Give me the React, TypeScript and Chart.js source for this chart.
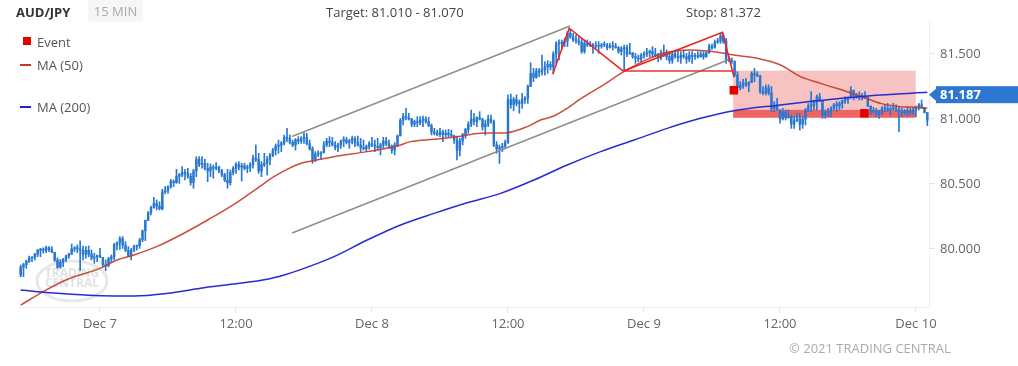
import React, { useEffect, useRef } from 'react';
import { Chart, registerables } from 'chart.js';

Chart.register(...registerables);

// ---- 15-minute bars (index 0 = Dec 6 17:00) ----
const highs = [
  79.877, 79.890, 79.915, 79.946, 79.941, 79.967, 79.997, 80.005, 80.010, 80.023,
  80.018, 80.018, 79.972, 79.933, 79.920, 79.928, 79.954, 79.967, 80.038, 80.018,
  80.031, 80.062, 80.023, 80.018, 80.023, 79.992, 79.967, 79.954, 80.005, 79.928,
  79.915, 79.936, 79.954, 80.044, 80.056, 80.095, 80.095, 80.056, 80.018, 80.005,
  80.031, 80.031, 80.082, 80.146, 80.223, 80.287, 80.331, 80.397, 80.377, 80.364,
  80.459, 80.480, 80.485, 80.536, 80.531, 80.613, 80.582, 80.633, 80.613, 80.621,
  80.582, 80.613, 80.710, 80.710, 80.710, 80.690, 80.659, 80.654, 80.646, 80.664,
  80.638, 80.613, 80.582, 80.613, 80.608, 80.633, 80.664, 80.672, 80.659, 80.659,
  80.646, 80.664, 80.723, 80.800, 80.736, 80.672, 80.736, 80.710, 80.736, 80.774,
  80.808, 80.838, 80.826, 80.877, 80.928, 80.877, 80.838, 80.851, 80.864, 80.864,
  80.895, 80.890, 80.838, 80.787, 80.749, 80.756, 80.749, 80.826, 80.851, 80.864,
  80.859, 80.826, 80.813, 80.838, 80.864, 80.859, 80.844, 80.869, 80.864, 80.869,
  80.851, 80.838, 80.800, 80.826, 80.859, 80.838, 80.851, 80.813, 80.859, 80.859,
  80.838, 80.800, 80.818, 80.877, 81.005, 81.044, 81.082, 81.044, 81.005, 80.992,
  81.018, 81.018, 81.023, 81.018, 81.013, 80.962, 80.928, 80.915, 80.928, 80.915,
  80.915, 80.921, 80.915, 80.877, 80.869, 80.851, 80.890, 80.928, 80.979, 81.069,
  81.044, 81.018, 81.056, 81.005, 80.992, 81.031, 81.031, 80.992, 80.826, 80.800,
  80.813, 80.838, 81.185, 81.192, 81.167, 81.185, 81.146, 81.197, 81.172, 81.262,
  81.433, 81.390, 81.390, 81.390, 81.492, 81.441, 81.449, 81.441, 81.518, 81.595,
  81.608, 81.608, 81.621, 81.672, 81.690, 81.659, 81.646, 81.633, 81.621, 81.608,
  81.608, 81.595, 81.582, 81.595, 81.595, 81.582, 81.595, 81.582, 81.582, 81.595,
  81.582, 81.557, 81.557, 81.569, 81.569, 81.582, 81.505, 81.505, 81.492, 81.505,
  81.518, 81.544, 81.531, 81.557, 81.544, 81.505, 81.531, 81.569, 81.531, 81.505,
  81.518, 81.531, 81.531, 81.518, 81.531, 81.505, 81.518, 81.518, 81.505, 81.518,
  81.518, 81.518, 81.518, 81.577, 81.577, 81.608, 81.621, 81.659, 81.659, 81.621,
  81.479, 81.467, 81.449, 81.364, 81.287, 81.305, 81.313, 81.287, 81.364, 81.390,
  81.364, 81.338, 81.249, 81.262, 81.262, 81.249, 81.133, 81.159, 81.069, 81.082,
  81.069, 81.069, 81.031, 81.018, 81.044, 81.044, 81.018, 81.082, 81.120, 81.210,
  81.146, 81.185, 81.197, 81.108, 81.069, 81.082, 81.095, 81.120, 81.133, 81.133,
  81.146, 81.172, 81.172, 81.249, 81.223, 81.197, 81.210, 81.197, 81.210, 81.159,
  81.095, 81.090, 81.082, 81.069, 81.095, 81.108, 81.120, 81.095, 81.120, 81.108,
  81.090, 81.082, 81.074, 81.090, 81.082, 81.090, 81.100, 81.120, 81.146, 81.084,
  81.031,
];

const lows = [
  79.787, 79.787, 79.851, 79.895, 79.903, 79.915, 79.941, 79.941, 79.967, 79.972,
  79.980, 79.972, 79.903, 79.851, 79.851, 79.864, 79.903, 79.928, 79.967, 79.980,
  79.972, 79.833, 79.915, 79.928, 79.941, 79.915, 79.890, 79.903, 79.936, 79.864,
  79.833, 79.864, 79.903, 79.915, 79.992, 79.997, 80.005, 79.980, 79.941, 79.915,
  79.980, 79.992, 80.005, 80.056, 80.064, 80.223, 80.262, 80.313, 80.300, 80.300,
  80.300, 80.423, 80.428, 80.467, 80.480, 80.505, 80.505, 80.556, 80.531, 80.544,
  80.492, 80.467, 80.556, 80.633, 80.621, 80.608, 80.518, 80.556, 80.544, 80.608,
  80.587, 80.556, 80.518, 80.467, 80.492, 80.569, 80.582, 80.608, 80.523, 80.608,
  80.587, 80.595, 80.621, 80.672, 80.582, 80.556, 80.633, 80.569, 80.646, 80.710,
  80.723, 80.736, 80.749, 80.800, 80.826, 80.808, 80.787, 80.761, 80.808, 80.813,
  80.813, 80.800, 80.761, 80.659, 80.672, 80.710, 80.690, 80.749, 80.787, 80.787,
  80.792, 80.762, 80.749, 80.774, 80.787, 80.808, 80.774, 80.808, 80.787, 80.792,
  80.749, 80.762, 80.749, 80.767, 80.787, 80.749, 80.762, 80.723, 80.774, 80.792,
  80.774, 80.736, 80.723, 80.787, 80.877, 80.954, 80.992, 80.992, 80.941, 80.941,
  80.941, 80.954, 80.941, 80.967, 80.941, 80.877, 80.877, 80.869, 80.864, 80.826,
  80.864, 80.864, 80.864, 80.813, 80.685, 80.715, 80.800, 80.851, 80.890, 80.941,
  80.954, 80.941, 80.992, 80.915, 80.877, 80.941, 80.967, 80.787, 80.736, 80.659,
  80.749, 80.774, 80.813, 81.082, 81.064, 81.100, 81.044, 81.082, 81.120, 81.120,
  81.249, 81.287, 81.313, 81.326, 81.338, 81.338, 81.351, 81.377, 81.351, 81.428,
  81.454, 81.544, 81.557, 81.557, 81.621, 81.595, 81.582, 81.569, 81.505, 81.505,
  81.557, 81.557, 81.505, 81.544, 81.505, 81.544, 81.557, 81.531, 81.544, 81.531,
  81.544, 81.505, 81.492, 81.377, 81.479, 81.505, 81.467, 81.428, 81.441, 81.441,
  81.467, 81.479, 81.479, 81.479, 81.479, 81.441, 81.454, 81.479, 81.454, 81.428,
  81.428, 81.467, 81.441, 81.428, 81.467, 81.428, 81.441, 81.428, 81.459, 81.467,
  81.474, 81.459, 81.474, 81.505, 81.536, 81.544, 81.582, 81.582, 81.582, 81.428,
  81.441, 81.428, 81.326, 81.210, 81.223, 81.236, 81.249, 81.210, 81.287, 81.287,
  81.326, 81.197, 81.185, 81.185, 81.185, 81.056, 81.056, 81.069, 80.967, 80.992,
  80.992, 81.005, 80.928, 80.928, 80.979, 80.915, 80.928, 80.954, 81.056, 81.056,
  81.069, 81.069, 81.133, 81.005, 81.005, 81.018, 81.018, 81.069, 81.056, 81.069,
  81.082, 81.120, 81.120, 81.159, 81.146, 81.159, 81.146, 81.146, 81.159, 81.095,
  81.031, 81.044, 81.018, 81.005, 81.031, 81.056, 81.056, 81.031, 81.069, 81.056,
  80.903, 81.018, 81.031, 81.023, 81.031, 81.031, 81.018, 81.069, 81.082, 81.046,
  80.949,
];

const closes = [
  79.860, 79.880, 79.905, 79.930, 79.935, 79.960, 79.990, 80.000, 79.990, 80.010,
  79.995, 79.975, 79.915, 79.860, 79.900, 79.920, 79.945, 79.960, 80.000, 80.010,
  80.000, 79.990, 79.960, 79.990, 79.960, 79.930, 79.940, 79.950, 79.936, 79.880,
  79.870, 79.925, 79.940, 80.030, 80.050, 80.080, 80.030, 79.990, 79.950, 79.990,
  80.020, 80.025, 80.070, 80.140, 80.220, 80.280, 80.320, 80.350, 80.330, 80.310,
  80.440, 80.450, 80.480, 80.520, 80.510, 80.560, 80.570, 80.590, 80.580, 80.560,
  80.510, 80.600, 80.690, 80.650, 80.660, 80.620, 80.600, 80.630, 80.620, 80.630,
  80.600, 80.570, 80.530, 80.510, 80.590, 80.620, 80.650, 80.630, 80.640, 80.620,
  80.630, 80.650, 80.700, 80.690, 80.600, 80.650, 80.660, 80.690, 80.720, 80.760,
  80.790, 80.800, 80.815, 80.860, 80.850, 80.820, 80.800, 80.840, 80.830, 80.850,
  80.860, 80.810, 80.770, 80.690, 80.730, 80.730, 80.740, 80.800, 80.830, 80.820,
  80.800, 80.780, 80.800, 80.830, 80.840, 80.820, 80.830, 80.850, 80.820, 80.800,
  80.780, 80.770, 80.790, 80.810, 80.800, 80.790, 80.780, 80.800, 80.830, 80.810,
  80.790, 80.760, 80.800, 80.870, 80.990, 81.020, 81.010, 81.000, 80.960, 80.980,
  80.970, 80.990, 81.000, 80.980, 80.950, 80.900, 80.890, 80.880, 80.900, 80.880,
  80.890, 80.880, 80.870, 80.840, 80.760, 80.830, 80.880, 80.920, 80.960, 81.000,
  80.980, 81.010, 81.000, 80.940, 80.960, 81.000, 80.980, 80.800, 80.770, 80.780,
  80.790, 80.820, 81.150, 81.110, 81.150, 81.120, 81.120, 81.150, 81.160, 81.250,
  81.350, 81.320, 81.370, 81.360, 81.380, 81.400, 81.420, 81.400, 81.500, 81.580,
  81.580, 81.590, 81.600, 81.660, 81.630, 81.610, 81.600, 81.590, 81.520, 81.580,
  81.570, 81.570, 81.560, 81.560, 81.560, 81.570, 81.570, 81.550, 81.560, 81.560,
  81.550, 81.520, 81.540, 81.550, 81.500, 81.510, 81.480, 81.470, 81.460, 81.490,
  81.500, 81.510, 81.520, 81.500, 81.490, 81.470, 81.510, 81.500, 81.480, 81.450,
  81.500, 81.480, 81.470, 81.490, 81.480, 81.460, 81.490, 81.480, 81.490, 81.480,
  81.500, 81.480, 81.510, 81.560, 81.550, 81.590, 81.600, 81.640, 81.600, 81.450,
  81.450, 81.440, 81.340, 81.240, 81.260, 81.280, 81.260, 81.280, 81.350, 81.340,
  81.330, 81.210, 81.200, 81.240, 81.200, 81.080, 81.100, 81.070, 81.000, 81.050,
  81.010, 81.020, 80.960, 80.990, 81.000, 80.960, 81.000, 81.070, 81.100, 81.100,
  81.130, 81.170, 81.140, 81.030, 81.050, 81.060, 81.080, 81.110, 81.100, 81.120,
  81.140, 81.150, 81.165, 81.220, 81.180, 81.170, 81.180, 81.160, 81.170, 81.100,
  81.060, 81.060, 81.040, 81.050, 81.080, 81.080, 81.070, 81.080, 81.080, 81.070,
  81.060, 81.050, 81.060, 81.050, 81.060, 81.070, 81.090, 81.110, 81.090, 81.050,
  80.990,
];
const firstOpen = 79.8;

// ---- moving averages (sampled along the bar index) ----
const ma50X = [0, 8, 16.5, 28, 34, 40, 48, 57.6, 66, 75, 83.5, 89.4, 94, 99, 103.5, 110.6, 122.3, 132.9, 137.6, 145.9, 154.1, 162.3, 171.7, 178.8, 183.5, 188.2, 192.9, 197.6, 204.7, 212.9, 221.1, 228.2, 236.4, 244.7, 251.7, 260, 268.2, 275.2, 282.3, 291.7, 297.6, 303.5, 310.5, 315.2, 320];
const ma50Y = [79.569, 79.672, 79.767, 79.851, 79.915, 79.954, 80.018, 80.121, 80.223, 80.339, 80.467, 80.556, 80.613, 80.659, 80.680, 80.710, 80.749, 80.792, 80.826, 80.844, 80.864, 80.890, 80.895, 80.941, 80.992, 81.023, 81.082, 81.154, 81.249, 81.364, 81.459, 81.513, 81.531, 81.518, 81.492, 81.467, 81.415, 81.326, 81.274, 81.210, 81.167, 81.120, 81.095, 81.090, 81.082];
const ma200X = [0, 8.2, 16.5, 28.2, 40, 51.8, 63.5, 75.3, 87, 93, 98.8, 110.6, 122.3, 134.1, 145.9, 157.6, 169.4, 181.2, 192.9, 204.7, 216.5, 228.2, 240, 251.7, 268.2, 280, 291.7, 303.5, 320];
const ma200Y = [79.685, 79.667, 79.654, 79.641, 79.639, 79.659, 79.698, 79.731, 79.767, 79.800, 79.841, 79.941, 80.069, 80.185, 80.274, 80.356, 80.428, 80.531, 80.646, 80.749, 80.838, 80.928, 81.005, 81.064, 81.108, 81.138, 81.164, 81.185, 81.205];

// ---- drawings ----
const channelUpperX = [95.8, 193.9];
const channelUpperY = [80.865, 81.715];
const channelLowerX = [95.8, 251.4];
const channelLowerY = [80.123, 81.469];
const patternX = [187.8, 193.6, 212.7, 247.7, 251.8];
const patternY = [81.344, 81.698, 81.369, 81.667, 81.321];
const necklineX = [212.7, 251.5];
const necklineY = [81.369, 81.369];
const eventX = [251.7, 297.8];
const eventY = [81.221, 81.044];

const targetLow = 81.01;
const targetHigh = 81.07;
const stopLevel = 81.372;
const boxStartX = 251.5;
const boxEndX = 315.9;
const lastPrice = 81.187;

// ---- axes ----
const xTickPos = [28, 76, 124, 172, 220, 268, 316];
const xTickLabels = ['Dec 7', '12:00', 'Dec 8', '12:00', 'Dec 9', '12:00', 'Dec 10'];
const yTicks = [80.0, 80.5, 81.0, 81.5];
const xMin = -0.94;
const xMax = 320.6;
const yMin = 79.5538;
const yMax = 81.7615;

const BAR_BLUE = '#2878d2';
const FONT = "'Open Sans', sans-serif";

const decorPlugin = {
  id: 'decor',
  beforeDatasetsDraw(chart: any) {
    const { ctx } = chart;
    const xs = chart.scales.x;
    const ys = chart.scales.y;
    ctx.save();
    // watermark logo
    ctx.strokeStyle = '#e8e8e8';
    ctx.lineWidth = 3;
    ctx.beginPath();
    ctx.ellipse(72, 281, 35, 20, 0, 0, Math.PI * 2);
    ctx.stroke();
    ctx.fillStyle = '#e2e2e2';
    ctx.font = `bold 12px ${FONT}`;
    ctx.textAlign = 'center';
    ctx.textBaseline = 'middle';
    ctx.fillText('TRADING', 72, 274);
    ctx.fillText('CENTRAL', 72, 284);
    // target / stop box
    const x0 = xs.getPixelForValue(boxStartX);
    const x1 = xs.getPixelForValue(boxEndX);
    const yStop = ys.getPixelForValue(stopLevel);
    const yLow = ys.getPixelForValue(targetLow);
    const yHigh = ys.getPixelForValue(targetHigh);
    ctx.fillStyle = '#f7c2c2';
    ctx.fillRect(x0, yStop, x1 - x0, yLow - yStop);
    ctx.fillStyle = '#ef6363';
    ctx.fillRect(x0, yHigh, x1 - x0, yLow - yHigh);
    ctx.restore();
  },
  afterDraw(chart: any) {
    const { ctx, chartArea } = chart;
    const ys = chart.scales.y;
    const yp = ys.getPixelForValue(lastPrice);
    const left = chartArea.right;
    ctx.save();
    ctx.fillStyle = '#2d77d0';
    ctx.beginPath();
    ctx.moveTo(left, yp);
    ctx.lineTo(left + 7, yp - 6);
    ctx.lineTo(left + 7, yp + 6);
    ctx.closePath();
    ctx.fill();
    ctx.fillRect(left + 7, yp - 8.5, chart.width - left - 7, 17);
    ctx.fillStyle = '#ffffff';
    ctx.font = `bold 13px ${FONT}`;
    ctx.textAlign = 'left';
    ctx.textBaseline = 'middle';
    ctx.fillText(lastPrice.toFixed(3), left + 11, yp + 0.5);
    ctx.restore();
  },
};

function pts(xsArr: number[], ysArr: number[]) {
  return xsArr.map((x, i) => ({ x, y: ysArr[i] }));
}

export default function App() {
  const canvasRef = useRef<HTMLCanvasElement | null>(null);

  useEffect(() => {
    if (!canvasRef.current) return;
    const opens = closes.map((_, i) => (i === 0 ? firstOpen : closes[i - 1]));
    const wickData = highs.map((h, i) => ({
      x: i,
      y: [Math.min(lows[i], opens[i]), Math.max(h, opens[i])],
    }));
    const bodyData = closes.map((c, i) => ({ x: i, y: [opens[i], c] }));

    const chart = new Chart(canvasRef.current, {
      type: 'bar',
      data: {
        datasets: [
          {
            type: 'scatter',
            data: pts(eventX, eventY),
            pointStyle: 'rect',
            pointRadius: 6,
            backgroundColor: '#e60000',
            borderWidth: 0,
            order: 0,
          } as any,
          {
            type: 'line',
            data: pts(patternX, patternY),
            borderColor: '#ee2020',
            borderWidth: 1.5,
            pointRadius: 0,
            fill: false,
            tension: 0,
            order: 1,
          },
          {
            type: 'line',
            data: pts(necklineX, necklineY),
            borderColor: '#ee3030',
            borderWidth: 1.5,
            pointRadius: 0,
            fill: false,
            order: 1,
          },
          {
            type: 'line',
            data: pts(channelUpperX, channelUpperY),
            borderColor: '#8e8e8e',
            borderWidth: 1.5,
            pointRadius: 0,
            fill: false,
            order: 2,
          },
          {
            type: 'line',
            data: pts(channelLowerX, channelLowerY),
            borderColor: '#8e8e8e',
            borderWidth: 1.5,
            pointRadius: 0,
            fill: false,
            order: 2,
          },
          {
            type: 'line',
            data: pts(ma200X, ma200Y),
            borderColor: '#2a2ad2',
            borderWidth: 1.5,
            pointRadius: 0,
            fill: false,
            cubicInterpolationMode: 'monotone',
            order: 3,
          },
          {
            type: 'line',
            data: pts(ma50X, ma50Y),
            borderColor: 'rgba(196,58,40,0.9)',
            borderWidth: 1.5,
            pointRadius: 0,
            fill: false,
            cubicInterpolationMode: 'monotone',
            order: 4,
          },
          {
            type: 'bar',
            data: bodyData as any,
            backgroundColor: BAR_BLUE,
            barThickness: 1.8,
            minBarLength: 1,
            grouped: false,
            order: 5,
          },
          {
            type: 'bar',
            data: wickData as any,
            backgroundColor: BAR_BLUE,
            barThickness: 1,
            grouped: false,
            order: 6,
          },
        ],
      },
      options: {
        animation: false,
        responsive: false,
        events: [],
        layout: { padding: { left: 18, top: 20, right: 0, bottom: 0 } },
        plugins: {
          legend: { display: false },
          tooltip: { enabled: false },
          title: { display: false },
        },
        scales: {
          x: {
            type: 'linear',
            min: xMin,
            max: xMax,
            offset: false,
            grid: { drawOnChartArea: false, drawTicks: true, tickLength: 6, color: '#e4e4e4', offset: false },
            border: { display: true, color: '#f0f0f0' },
            ticks: {
              autoSkip: false,
              maxRotation: 0,
              padding: 3,
              color: '#666666',
              font: { family: FONT, size: 13 },
              callback: (_v: any, idx: number) => xTickLabels[idx],
            },
            afterBuildTicks: (scale: any) => {
              scale.ticks = xTickPos.map((v) => ({ value: v }));
            },
            afterFit: (scale: any) => {
              scale.height = 59;
              scale.paddingLeft = 0;
              scale.paddingRight = 0;
            },
          },
          y: {
            type: 'linear',
            position: 'right',
            min: yMin,
            max: yMax,
            grid: { drawOnChartArea: false, drawTicks: true, tickLength: 6, color: '#e4e4e4' },
            border: { display: true, color: '#f0f0f0' },
            ticks: {
              padding: 5,
              color: '#666666',
              font: { family: FONT, size: 13 },
              callback: (v: any) => Number(v).toFixed(3),
            },
            afterBuildTicks: (scale: any) => {
              scale.ticks = yTicks.map((v) => ({ value: v }));
            },
            afterFit: (scale: any) => {
              scale.width = 89;
              scale.paddingTop = 0;
              scale.paddingBottom = 0;
            },
          },
        },
      } as any,
      plugins: [decorPlugin],
    });
    return () => chart.destroy();
  }, []);

  const txt: React.CSSProperties = {
    position: 'absolute',
    fontFamily: FONT,
    fontSize: 13,
    lineHeight: '22px',
    whiteSpace: 'nowrap',
  };

  return (
    <div style={{ position: 'absolute', left: 0, top: 0, width: 1018, height: 366, background: '#fff', overflow: 'hidden' }}>
      <canvas ref={canvasRef} width={1018} height={366} style={{ position: 'absolute', left: 0, top: 0, width: 1018, height: 366 }} />
      <div style={{ ...txt, left: 16, top: 1, color: '#333', fontWeight: 700 }}>AUD/JPY</div>
      <div style={{ ...txt, left: 88, top: 0, width: 55, height: 22, background: '#f6f6f6', borderRadius: 3, color: '#aaaaaa', textAlign: 'center', lineHeight: '23px' }}>15 MIN</div>
      <div style={{ ...txt, left: 326, top: 1, color: '#444' }}>Target: 81.010 - 81.070</div>
      <div style={{ ...txt, left: 686, top: 1, color: '#444' }}>Stop: 81.372</div>
      <div style={{ position: 'absolute', left: 23, top: 37, width: 8, height: 8, background: '#e60000' }} />
      <div style={{ ...txt, left: 37, top: 31, color: '#555' }}>Event</div>
      <div style={{ position: 'absolute', left: 20, top: 64, width: 11, height: 2, background: '#c43a28' }} />
      <div style={{ ...txt, left: 37, top: 54, color: '#555' }}>MA (50)</div>
      <div style={{ position: 'absolute', left: 20, top: 106, width: 11, height: 2, background: '#2020cc' }} />
      <div style={{ ...txt, left: 37, top: 96, color: '#555' }}>MA (200)</div>
      <div style={{ ...txt, left: 789, top: 337, color: '#aaaaaa' }}>© 2021 TRADING CENTRAL</div>
    </div>
  );
}
